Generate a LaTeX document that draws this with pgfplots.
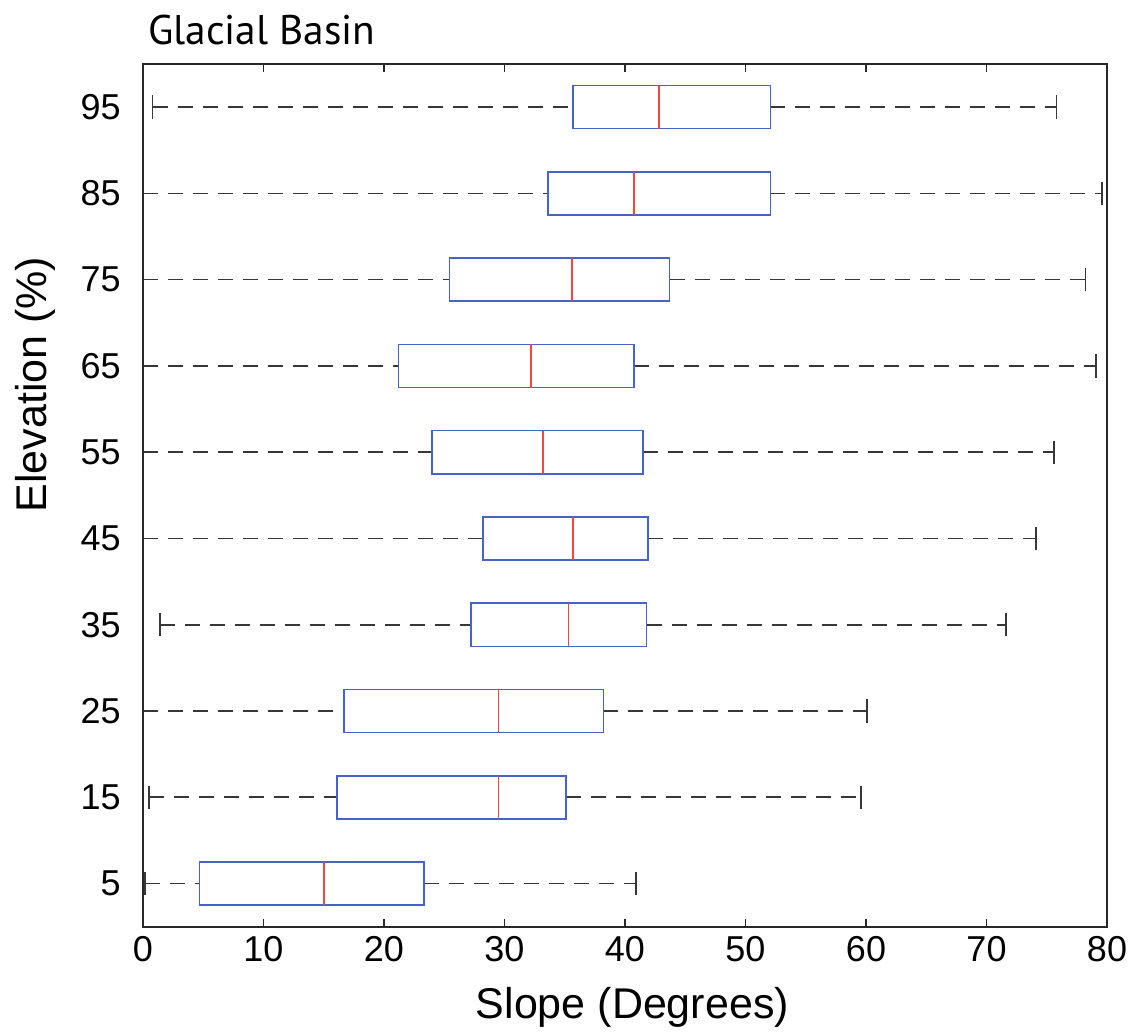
\documentclass[border=0pt]{standalone}
\usepackage{fontspec}
\setmainfont{Liberation Sans}
\newfontfamily\titlefont{PT Sans}
\usepackage{pgfplots}
\pgfplotsset{compat=1.18}
\usepgfplotslibrary{statistics}
\definecolor{boxblue}{RGB}{70,100,200}
\definecolor{medred}{RGB}{240,70,70}
\definecolor{whisk}{RGB}{55,55,55}
\definecolor{axcol}{RGB}{40,40,40}
\begin{document}
\begin{tikzpicture}
\begin{axis}[
  scale only axis,
  width=482pt, height=431.35pt,
  xmin=0, xmax=80, ymin=0.5, ymax=10.5,
  xtick={0,10,...,80},
  ytick={1,2,3,4,5,6,7,8,9,10},
  yticklabels={5,15,25,35,45,55,65,75,85,95},
  xtick pos=both,
  tick align=inside,
  major tick length=4pt,
  ytick style={draw=none},
  xtick style={axcol, line width=0.8pt},
  axis line style={axcol, line width=1pt},
  axis on top,
  /pgf/number format/assume math mode=true,
  tick label style={font=\fontsize{18}{20}\selectfont},
  xticklabel style={anchor=base, yshift=-17.5pt},
  yticklabel style={anchor=east, inner sep=0pt, xshift=-11pt},
  boxplot/draw direction=x,
  boxplot/box extend=0.5,
  boxplot/whisker extend=0.27,
  boxplot/every box/.style={boxblue, line width=0.8pt},
  boxplot/every median/.style={medred, line width=0.8pt},
  boxplot/draw/lower whisker/.code={
    \draw[whisk, line width=0.8pt, dash pattern=on 7.5pt off 5pt]
      (boxplot cs:\pgfplotsboxplotvalue{lower whisker}) -- (boxplot cs:\pgfplotsboxplotvalue{lower quartile});
    \draw[whisk, line width=0.8pt]
      (boxplot whisker cs:\pgfplotsboxplotvalue{lower whisker},0) -- (boxplot whisker cs:\pgfplotsboxplotvalue{lower whisker},1);
  },
  boxplot/draw/upper whisker/.code={
    \draw[whisk, line width=0.8pt, dash pattern=on 7.5pt off 5pt]
      (boxplot cs:\pgfplotsboxplotvalue{upper quartile}) -- (boxplot cs:\pgfplotsboxplotvalue{upper whisker});
    \draw[whisk, line width=0.8pt]
      (boxplot whisker cs:\pgfplotsboxplotvalue{upper whisker},0) -- (boxplot whisker cs:\pgfplotsboxplotvalue{upper whisker},1);
  },
]
% elevation 5
\addplot[boxblue, boxplot prepared={draw position=1, lower whisker=0.15, lower quartile=4.7, median=15.0, upper quartile=23.3, upper whisker=40.9}] coordinates {};
% 15
\addplot[boxblue, boxplot prepared={draw position=2, lower whisker=0.5, lower quartile=16.1, median=29.5, upper quartile=35.1, upper whisker=59.6}] coordinates {};
% 25
\addplot[boxblue, boxplot prepared={draw position=3, lower whisker=0, lower quartile=16.7, median=29.5, upper quartile=38.2, upper whisker=60.1}] coordinates {};
% 35
\addplot[boxblue, boxplot prepared={draw position=4, lower whisker=1.4, lower quartile=27.2, median=35.3, upper quartile=41.8, upper whisker=71.6}] coordinates {};
% 45
\addplot[boxblue, boxplot prepared={draw position=5, lower whisker=0, lower quartile=28.2, median=35.7, upper quartile=41.9, upper whisker=74.1}] coordinates {};
% 55
\addplot[boxblue, boxplot prepared={draw position=6, lower whisker=0, lower quartile=24.0, median=33.2, upper quartile=41.5, upper whisker=75.6}] coordinates {};
% 65
\addplot[boxblue, boxplot prepared={draw position=7, lower whisker=0, lower quartile=21.2, median=32.2, upper quartile=40.75, upper whisker=79.1}] coordinates {};
% 75
\addplot[boxblue, boxplot prepared={draw position=8, lower whisker=0, lower quartile=25.45, median=35.6, upper quartile=43.7, upper whisker=78.2}] coordinates {};
% 85
\addplot[boxblue, boxplot prepared={draw position=9, lower whisker=0, lower quartile=33.6, median=40.75, upper quartile=52.06, upper whisker=79.6}] coordinates {};
% 95
\addplot[boxblue, boxplot prepared={draw position=10, lower whisker=0.8, lower quartile=35.7, median=42.8, upper quartile=52.06, upper whisker=75.8}] coordinates {};
\end{axis}
\node[anchor=base west, inner xsep=0pt, font=\titlefont\fontsize{20.7}{23}\selectfont] at ([xshift=2.4pt, yshift=9.5pt]current axis.north west) {Glacial Basin};
\node[anchor=base, rotate=90, font=\fontsize{21.5}{24}\selectfont] at ([xshift=-48pt, yshift=55.4pt]current axis.west) {Elevation (\%)};
\node[anchor=base, font=\fontsize{21.5}{24}\selectfont] at ([xshift=3.7pt, yshift=-45.7pt]current axis.south) {Slope (Degrees)};
\path (current axis.south west) ++(-71.5pt,-52.65pt) rectangle ++(569.5pt,516pt);
\end{tikzpicture}
\end{document}
